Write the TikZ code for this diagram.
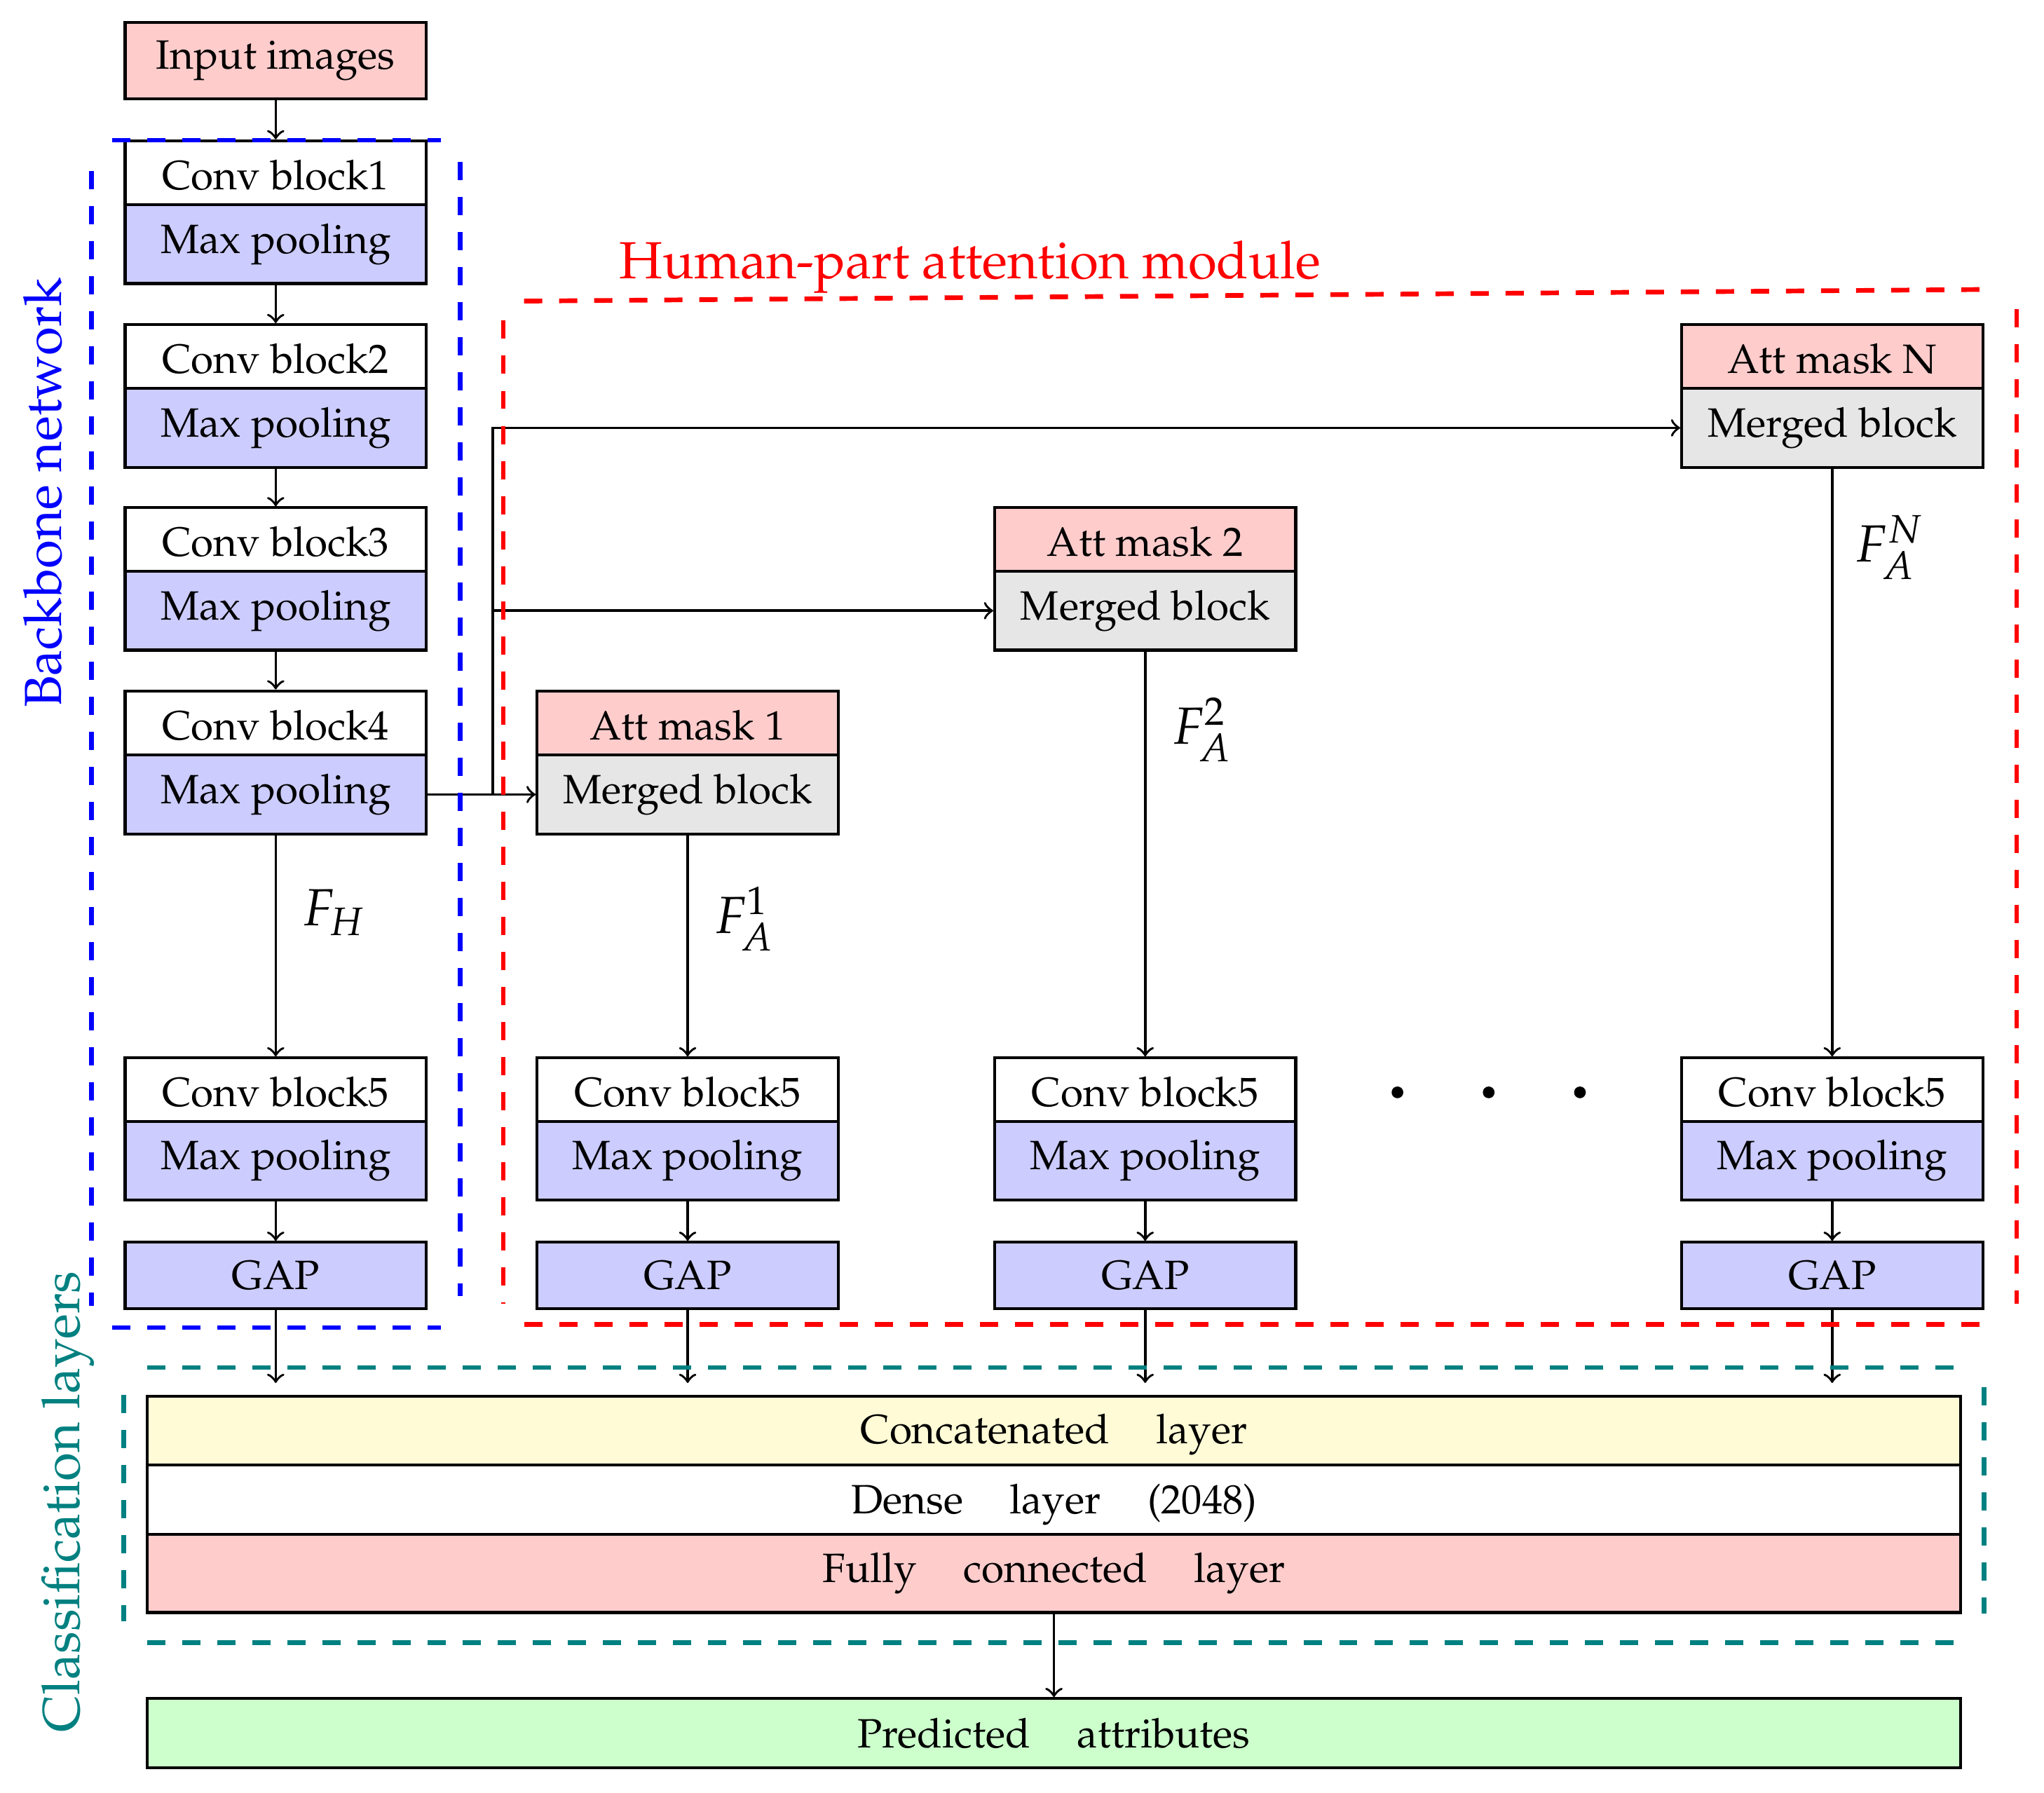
\documentclass[tikz,border=0pt]{standalone}
\usepackage[T1]{fontenc}
\usepackage{mathpazo}
\definecolor{cpink}{RGB}{255,204,204}
\definecolor{clav}{RGB}{204,204,255}
\definecolor{cgrey}{RGB}{230,230,230}
\definecolor{cyel}{RGB}{255,251,214}
\definecolor{cgreen}{RGB}{204,255,204}
\definecolor{cteal}{RGB}{0,128,128}
\def\myu{0.312pt}
\newcommand\wgap{\hspace{11.2pt}}
\newcommand\bodyfont{\fontsize{9.8}{12}\selectfont}
\newcommand\titlefont{\fontsize{12.5}{15}\selectfont}
\begin{document}
\begin{tikzpicture}[x=0.312pt, y=-0.312pt,
  blk/.style={draw, line width=0.7pt, minimum width=231*\myu, inner sep=0pt, anchor=center, font=\bodyfont},
  wide/.style={draw, line width=0.7pt, minimum width=1391*\myu, inner sep=0pt, anchor=center, font=\bodyfont},
  hs/.style={minimum height=49*\myu, text height=8.2pt},
  ht/.style={minimum height=60.5*\myu},
  arr/.style={->, line width=0.6pt},
  bdash/.style={blue, line width=1.12pt, dash pattern=on 4.36pt off 4.03pt},
  rdash/.style={red, line width=1.12pt, dash pattern=on 4.36pt off 4.03pt},
  tdash/.style={cteal, line width=1.12pt, dash pattern=on 4.36pt off 4.03pt},
  flab/.style={anchor=west, font=\titlefont},
  dot/.style={circle, fill=black, inner sep=0pt, minimum size=9*\myu}
]
\useasboundingbox (0,0) rectangle (1568,1375);

% backbone column
\node[blk, fill=cpink, minimum height=59*\myu] (inp) at (211.5,46.5) {Input images};
\node[blk, fill=white, hs] (c1) at (211.5,132.5) {Conv block1};
\node[blk, fill=clav, ht] (m1) at (211.5,187.25) {Max pooling};
\node[blk, fill=white, hs] (c2) at (211.5,273.5) {Conv block2};
\node[blk, fill=clav, ht] (m2) at (211.5,328.25) {Max pooling};
\node[blk, fill=white, hs] (c3) at (211.5,414) {Conv block3};
\node[blk, fill=clav, ht] (m3) at (211.5,468.5) {Max pooling};
\node[blk, fill=white, hs] (c4) at (211.5,554.5) {Conv block4};
\node[blk, fill=clav, ht] (m4) at (211.5,609.5) {Max pooling};

% attention blocks
\node[blk, fill=cpink, hs] (a1) at (527.5,554.5) {Att mask 1};
\node[blk, fill=cgrey, ht] (g1) at (527.5,609.5) {Merged block};
\node[blk, fill=cpink, hs] (a2) at (878.5,414) {Att mask 2};
\node[blk, fill=cgrey, ht] (g2) at (878.5,468.5) {Merged block};
\node[blk, fill=cpink, hs] (aN) at (1405.5,273.5) {Att mask N};
\node[blk, fill=cgrey, ht] (gN) at (1405.5,328.25) {Merged block};

% conv block5 rows
\foreach \nm/\xx in {a/211.5, b/527.5, c/878.5, d/1405.5}{
  \node[blk, fill=white, hs] (c5\nm) at (\xx,836) {Conv block5};
  \node[blk, fill=clav, ht] (m5\nm) at (\xx,890.5) {Max pooling};
  \node[blk, fill=clav, minimum height=51*\myu] (gap\nm) at (\xx,978.5) {GAP};
}

% dots
\node[dot] (d1) at (1072,838) {};
\node[dot] (d2) at (1142,838) {};
\node[dot] (d3) at (1212,838) {};

% classification
\node[wide, fill=cyel, minimum height=53*\myu, text height=9pt] (cat) at (808.5,1097.5) {Concatenated\wgap layer};
\node[wide, fill=white, minimum height=53*\myu, text height=9.5pt] (den) at (808.5,1150.5) {Dense\wgap layer\wgap (2048)};
\node[wide, fill=cpink, minimum height=60*\myu] (fc) at (808.5,1207) {Fully\wgap connected\wgap layer};
\node[wide, fill=cgreen, minimum height=53*\myu] (pred) at (808.5,1329.5) {Predicted\wgap attributes};

% arrows
\draw[arr] (inp) -- (c1);
\draw[arr] (m1) -- (c2);
\draw[arr] (m2) -- (c3);
\draw[arr] (m3) -- (c4);
\draw[arr] (m4) -- (c5a);
\draw[arr] (m4.east) -- (g1.west);
\coordinate (br) at (378,609.5);
\draw[arr] (br) |- (g2.west);
\draw[arr] (br) |- (gN.west);
\draw[arr] (g1) -- (c5b);
\draw[arr] (g2) -- (c5c);
\draw[arr] (gN) -- (c5d);
\foreach \nm in {a,b,c,d}{
  \draw[arr] (m5\nm) -- (gap\nm);
  \draw[arr, shorten >=2.8pt] (gap\nm.south) -- (gap\nm.south |- cat.north);
}
\draw[arr] (fc) -- (pred);

% labels
\node[flab] (fh) at (221,700) {$F_H$};
\node[flab] (f1) at (537,705) {$F_A^1$};
\node[flab] (f2) at (888,560) {$F_A^2$};
\node[flab] (fN) at (1412,420) {$F_A^N$};

% dashed frames
\draw[bdash] (86,107.5) -- (338,107.5);
\draw[bdash] (70,131) -- (70,1002);
\draw[bdash] (353,124) -- (353,994);
\draw[bdash] (86,1018.5) -- (338,1018.5);

\draw[rdash] (402,231) -- (1530,222);
\draw[rdash] (386,246) -- (386,1000);
\draw[rdash] (1547,237) -- (1547,1000);
\draw[rdash] (402,1016) -- (1530,1016);

\draw[tdash] (113,1049) -- (1505,1049);
\draw[tdash] (95,1070) -- (95,1244);
\draw[tdash] (1522,1064) -- (1522,1238);
\draw[tdash] (113,1260) -- (1505,1260);

% group titles
\node[blue, font=\titlefont, rotate=90] (tb) at (33,378) {Backbone network};
\node[cteal, font=\titlefont, rotate=90] (tc) at (52,1152) {Classification layers};
\node[red, font=\titlefont, anchor=base] (th) at (744,214) {Human-part attention module};
\end{tikzpicture}
\end{document}
